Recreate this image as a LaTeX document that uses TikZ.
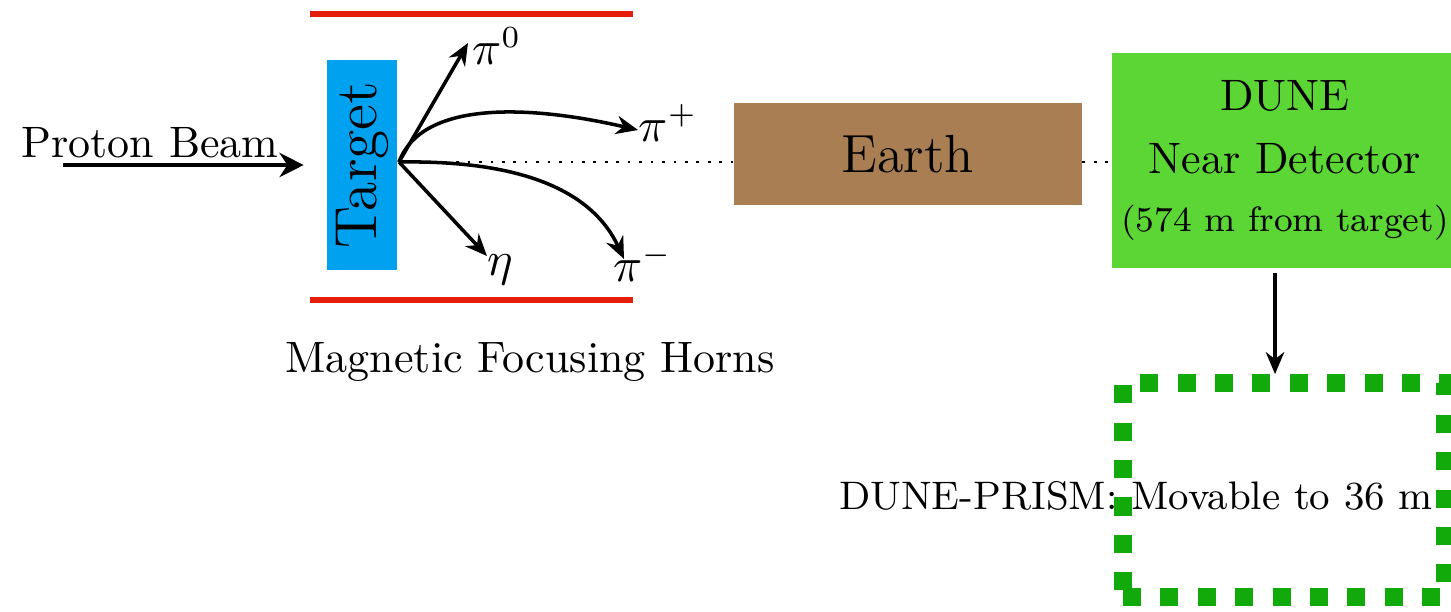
\documentclass[tikz,border=0pt]{standalone}
\usepackage{graphicx}
\usetikzlibrary{arrows.meta}
\definecolor{tblue}{RGB}{0,162,240}
\definecolor{hred}{RGB}{228,30,10}
\definecolor{earthc}{RGB}{168,126,82}
\definecolor{ndgreen}{RGB}{92,214,52}
\definecolor{prgreen}{RGB}{18,170,10}
\tikzset{
  horn/.style={hred, line width=1.4pt},
  particle/.style={black, line width=0.8pt, -{Stealth[length=5pt,width=4.2pt]}},
  beam/.style={black, line width=1pt, -{Stealth[length=5.5pt,width=5.5pt]}},
  beamline/.style={black, line width=0.6pt, dotted},
  plabel/.style={inner sep=0pt, font=\fontsize{10.5}{12}\selectfont},
  txt/.style={inner sep=0pt, font=\fontsize{10}{12}\selectfont},
}
\begin{document}
\begin{tikzpicture}[x=0.2273pt,y=-0.2273pt]
\useasboundingbox (0,0) rectangle (1451,611);
% horns
\draw[horn] (310,14) -- (633,14);
\draw[horn] (310,300) -- (633,300);
% target
\node[fill=tblue, minimum width=16.1pt, minimum height=47.7pt, inner sep=0pt, font=\fontsize{13.5}{15}\selectfont] (tg) at (362,165) {\rotatebox{90}{Target}};
\coordinate (src) at (399,162);
% earth
\node[fill=earthc, minimum width=78.9pt, minimum height=23.2pt, inner sep=0pt, font=\fontsize{12.2}{14}\selectfont] (earth) at (908,154) {Earth};
% near detector
\node[fill=ndgreen, minimum width=78.5pt, minimum height=48.9pt, inner sep=0pt, align=center, font=\fontsize{10}{14.2}\selectfont] (nd) at (1285,160.5) {DUNE\\Near Detector\\[-1pt]{\fontsize{8}{10}\selectfont(574 m from target)}};
% beam line
\draw[beamline] (src) -- (src -| earth.west);
\draw[beamline] (src -| earth.east) -- (src -| nd.west);
% proton beam
\coordinate (pb) at (63,165);
\draw[beam, shorten >=5pt] (pb) -- (pb -| tg.west);
\node[txt] (pblabel) at (150,143) {Proton Beam};
% particles
\node[plabel] (pi0) at (497,46) {$\pi^0$};
\node[plabel] (pip) at (668,123) {$\pi^+$};
\node[plabel] (eta) at (500,270) {$\eta$};
\node[plabel] (pim) at (643,263) {$\pi^-$};
\draw[particle] (src) -- (468,43);
\draw[particle] (src) .. controls (422,100) and (530,105) .. (638,130);
\draw[particle] (src) -- (487,256);
\draw[particle] (src) .. controls (520,160) and (592,190) .. (624,259);
% horns label
\node[txt] (hornlabel) at (530,362) {Magnetic Focusing Horns};
% prism
\node[inner sep=0pt, font=\fontsize{9.05}{12}\selectfont] (prlabel) at (1136,496) {DUNE-PRISM: Movable to 36 m};
\node[draw=prgreen, line width=4.1pt, dash pattern=on 4.1pt off 4.4pt, minimum width=73.2pt, minimum height=48.6pt, inner sep=0pt] (prism) at (1284,490) {};
\coordinate (ax) at (1275,0);
\draw[particle, shorten <=0.9pt] (nd.south -| ax) -- (prism.north -| ax);
\end{tikzpicture}
\end{document}
